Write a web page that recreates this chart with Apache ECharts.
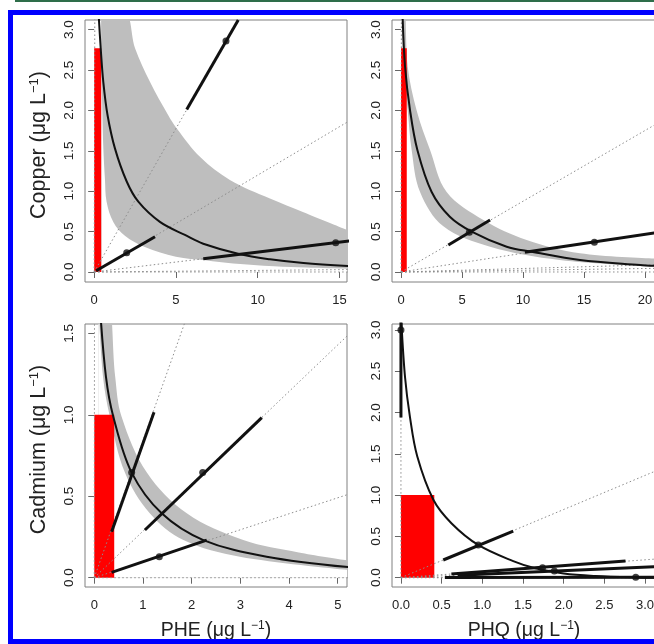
<!DOCTYPE html>
<html>
<head>
<meta charset="utf-8">
<script src="https://cdn.jsdelivr.net/npm/echarts@6/dist/echarts.min.js"></script>
<style>
  html, body { margin: 0; padding: 0; background: #fff; }
  #chart { width: 654px; height: 644px; }
</style>
</head>
<body>
<div id="chart"></div>
<script>
// ---- data ----
// top-left: Copper vs PHE
var cuPheCurve = [[0.27,3.2],[0.4,2.77],[0.56,2.35],[0.82,1.94],[1.27,1.53],[1.99,1.12],[2.7,0.87],[4.02,0.62],[5.55,0.458],[6.67,0.35],[8.92,0.219],[10.75,0.157],[12.8,0.111],[15.6,0.072]];
var cuPheBandUpper = [[0.42,3.2],[1.87,3.2],[2.5,2.77],[3.41,2.355],[4.53,1.94],[5.04,1.78],[6.5,1.42],[8.3,1.14],[10.75,0.91],[12.8,0.74],[15.6,0.51]];
var cuPheBandLower = [[0.42,3.4],[0.45,2.5],[0.5,2.0],[0.56,1.53],[0.66,1.15],[0.76,0.87],[1.17,0.62],[1.88,0.45],[3.1,0.31],[5.0,0.19],[6.8,0.145],[8.5,0.105],[11,0.07],[13,0.055],[15.6,0.04]];
var cuPheBar = [0.43, 2.77];
var cuPheRays = [[8.79,3.12],[15.6,1.87],[15.6,0.384],[15.6,0.03],[15.6,0.0],[0.04,3.2]];
var cuPheSegments = [[[5.66,2.01],[8.81,3.12]], [[0.12,0.015],[3.72,0.437]], [[6.67,0.164],[15.6,0.384]]];
var cuPhePoints = [[8.06,2.86],[1.99,0.239],[14.77,0.363]];

// top-right: Copper vs PHQ
var cuPhqCurve = [[0.12,3.2],[0.33,2.54],[0.74,2.0],[1.34,1.51],[2.51,0.99],[4.0,0.684],[5.79,0.5],[8.66,0.313],[10.71,0.251],[14.67,0.149],[19.6,0.087],[20.9,0.075]];
var cuPhqBandUpper = [[0.06,3.3],[0.28,3.3],[0.55,2.54],[1.28,2.0],[2.38,1.51],[3.74,0.99],[6.75,0.644],[10.3,0.396],[14.67,0.231],[20.9,0.165]];
var cuPhqBandLower = [[0.06,3.3],[0.19,2.54],[0.55,2.0],[0.87,1.51],[1.56,0.99],[3.47,0.565],[7.3,0.313],[13.0,0.149],[20.9,0.066]];
var cuPhqBar = [0.47, 2.77];
var cuPhqRays = [[20.9,1.83],[20.9,0.485],[20.9,0.09],[20.9,0.045],[20.9,0.0],[0.03,3.2]];
var cuPhqSegments = [[[3.88,0.334],[7.3,0.644]], [[10.16,0.243],[20.9,0.485]]];
var cuPhqPoints = [[5.6,0.491],[15.85,0.367]];

// bottom-left: Cadmium vs PHE
var cdPheCurve = [[0.12,1.65],[0.24,1.234],[0.39,0.99],[0.768,0.645],[1.385,0.395],[2.24,0.231],[3.54,0.129],[5.25,0.064]];
var cdPheBandUpper = [[0.09,1.7],[0.28,1.7],[0.43,1.234],[0.56,0.99],[1.08,0.645],[1.9,0.395],[3.06,0.231],[4.2,0.155],[5.25,0.104]];
var cdPheBandLower = [[0.09,1.65],[0.18,1.234],[0.32,0.99],[0.63,0.645],[1.14,0.395],[1.83,0.231],[2.99,0.129],[5.25,0.047]];
var cdPheBar = [0.41, 1.0];
var cdPheRays = [[1.96,1.65],[5.25,1.5],[5.25,0.515],[5.25,0.0],[0.005,1.65]];
var cdPheSegments = [[[0.357,0.282],[1.227,1.015]], [[1.04,0.293],[3.44,0.982]], [[0.357,0.033],[2.31,0.231]]];
var cdPhePoints = [[0.768,0.645],[2.227,0.645],[1.336,0.129]];

// bottom-right: Cadmium vs PHQ
var cdPhqCurve = [[0.005,3.1],[0.05,2.43],[0.11,1.95],[0.2,1.47],[0.4,0.94],[0.62,0.66],[0.95,0.396],[1.38,0.2],[1.65,0.113],[2.0,0.05],[2.39,0.02],[2.88,0.003],[3.15,0.0]];
var cdPhqBar = [0.41, 1.0];
var cdPhqRays = [[3.15,1.3],[3.15,0.227],[3.15,0.135],[3.15,0.006],[3.15,0.0],[0.0,3.1]];
var cdPhqSegments = [[[0.52,0.214],[1.38,0.565]], [[0.62,0.045],[2.76,0.202]], [[0.7,0.03],[3.15,0.135]], [[0.54,0.003],[3.15,0.006]], [[0,1.94],[0,3.1]]];
var cdPhqPoints = [[0.95,0.396],[1.74,0.121],[1.885,0.081],[2.886,0.005],[0.0,3.0]];

// tick labels
var cuPheXTicks = [0, 5, 10, 15];
var cuPhqXTicks = [0, 5, 10, 15, 20];
var cuYTicks = [0, 0.5, 1, 1.5, 2, 2.5, 3];
var cdPheXTicks = [0, 1, 2, 3, 4, 5];
var cdPheYTicks = [0, 0.5, 1, 1.5];
var cdPhqXTicks = [0, 0.5, 1, 1.5, 2, 2.5, 3];
var cdPhqYTicks = [0, 0.5, 1, 1.5, 2, 2.5, 3];

// ---- layout ----
var FONT = "'Liberation Sans', Arial, Helvetica, sans-serif";
var UNIT = 'μg L{sup|−1}';

var panels = [
  { grid: {left: 85, top: 20, width: 262, height: 262}, xr: [-0.56, 15.46], yr: [-0.124, 3.119],
    xt: cuPheXTicks, yt: cuYTicks, xdec: 0, yName: 'Copper (' + UNIT + ')',
    curve: cuPheCurve, upper: cuPheBandUpper, lower: cuPheBandLower, bar: cuPheBar,
    rays: cuPheRays, segments: cuPheSegments, points: cuPhePoints },
  { grid: {left: 392, top: 20, width: 264, height: 262}, xr: [-0.74, 20.9], yr: [-0.124, 3.119],
    xt: cuPhqXTicks, yt: cuYTicks, xdec: 0,
    curve: cuPhqCurve, upper: cuPhqBandUpper, lower: cuPhqBandLower, bar: cuPhqBar,
    rays: cuPhqRays, segments: cuPhqSegments, points: cuPhqPoints },
  { grid: {left: 85, top: 324, width: 262, height: 263}, xr: [-0.19, 5.19], yr: [-0.057, 1.557],
    xt: cdPheXTicks, yt: cdPheYTicks, xdec: 0, yName: 'Cadmium (' + UNIT + ')', xName: 'PHE (' + UNIT + ')',
    curve: cdPheCurve, upper: cdPheBandUpper, lower: cdPheBandLower, bar: cdPheBar,
    rays: cdPheRays, segments: cdPheSegments, points: cdPhePoints },
  { grid: {left: 392, top: 324, width: 264, height: 263}, xr: [-0.11, 3.135], yr: [-0.113, 3.072],
    xt: cdPhqXTicks, yt: cdPhqYTicks, xdec: 1, xName: 'PHQ (' + UNIT + ')',
    curve: cdPhqCurve, bar: cdPhqBar,
    rays: cdPhqRays, segments: cdPhqSegments, points: cdPhqPoints }
];

function nameStyle(size, pad) {
  return {
    fontSize: size, fontFamily: FONT, color: '#222', padding: pad,
    rich: { sup: { fontSize: Math.round(size * 0.62), fontFamily: FONT, color: '#222', padding: [0, 0, Math.round(size * 0.48), 0] } }
  };
}

var grids = [], xAxes = [], yAxes = [], series = [];

panels.forEach(function (p, i) {
  grids.push(Object.assign({ show: true, borderColor: '#808080', borderWidth: 1,
    backgroundColor: 'transparent', containLabel: false, outerBoundsMode: 'none' }, p.grid));

  xAxes.push({
    type: 'value', gridIndex: i, min: p.xr[0], max: p.xr[1],
    axisLine: { show: false }, splitLine: { show: false },
    axisTick: { show: true, length: 6, customValues: p.xt, lineStyle: { color: '#666' } },
    axisLabel: { customValues: p.xt, margin: 12, color: '#222', fontSize: 13, fontFamily: FONT,
      formatter: function (v) { return v.toFixed(p.xdec); } },
    name: p.xName || '', nameLocation: 'middle', nameGap: 33, nameTextStyle: nameStyle(19.5, 0)
  });
  yAxes.push({
    type: 'value', gridIndex: i, min: p.yr[0], max: p.yr[1],
    axisLine: { show: false }, splitLine: { show: false },
    axisTick: { show: true, length: 6, customValues: p.yt, lineStyle: { color: '#666' } },
    axisLabel: { customValues: p.yt, margin: 9, rotate: 90, color: '#222', fontSize: 13.5, fontFamily: FONT,
      formatter: function (v) { return v.toFixed(1); } },
    name: p.yName || '', nameLocation: 'middle', nameGap: 34, nameTextStyle: nameStyle(21.5, [0, 0, 0, 12])
  });

  var ax = { xAxisIndex: i, yAxisIndex: i, silent: true, animation: false };

  // grey band: fill under upper edge, then white under lower edge
  if (p.upper) {
    series.push(Object.assign({ type: 'line', data: p.upper, smooth: 0.35, symbol: 'none',
      lineStyle: { width: 0 }, areaStyle: { color: '#bebebe', opacity: 1 }, z: 1 }, ax));
    series.push(Object.assign({ type: 'line', data: p.lower, smooth: 0.35, symbol: 'none',
      lineStyle: { width: 0 }, areaStyle: { color: '#ffffff', opacity: 1 }, z: 1 }, ax));
  }

  // red bar
  series.push(Object.assign({
    type: 'custom', data: [p.bar], clip: true, z: 2,
    renderItem: function (params, api) {
      var a = api.coord([0, 0]);
      var b = api.coord([api.value(0), api.value(1)]);
      return { type: 'rect', shape: { x: a[0], y: b[1], width: b[0] - a[0], height: a[1] - b[1] },
        style: { fill: '#ff0000' } };
    }
  }, ax));

  // dotted rays from the origin
  p.rays.forEach(function (end) {
    series.push(Object.assign({ type: 'line', data: [[0, 0], end], symbol: 'none',
      lineStyle: { color: '#8c8c8c', width: 1, type: [1.5, 2.5] }, z: 3 }, ax));
  });

  // isobole curve
  series.push(Object.assign({ type: 'line', data: p.curve, smooth: 0.35, symbol: 'none',
    lineStyle: { color: '#111', width: 2 }, z: 4 }, ax));

  // thick segments along rays
  p.segments.forEach(function (seg) {
    series.push(Object.assign({ type: 'line', data: seg, symbol: 'none',
      lineStyle: { color: '#111', width: 3 }, z: 4 }, ax));
  });

  series.push(Object.assign({ type: 'scatter', data: p.points, symbolSize: 7,
    itemStyle: { color: '#111' }, z: 5 }, ax));
});

var chart = echarts.init(document.getElementById('chart'));
chart.setOption({
  animation: false,
  backgroundColor: '#fff',
  grid: grids,
  xAxis: xAxes,
  yAxis: yAxes,
  series: series,
  graphic: [
    { type: 'rect', silent: true, z: 100, shape: { x: 15, y: 0, width: 645, height: 2 }, style: { fill: '#2e6e4a' } },
    { type: 'rect', silent: true, z: 100, shape: { x: 10.5, y: 12.5, width: 700, height: 629 },
      style: { fill: 'none', stroke: '#0000ff', lineWidth: 5 } }
  ]
});
</script>
</body>
</html>
